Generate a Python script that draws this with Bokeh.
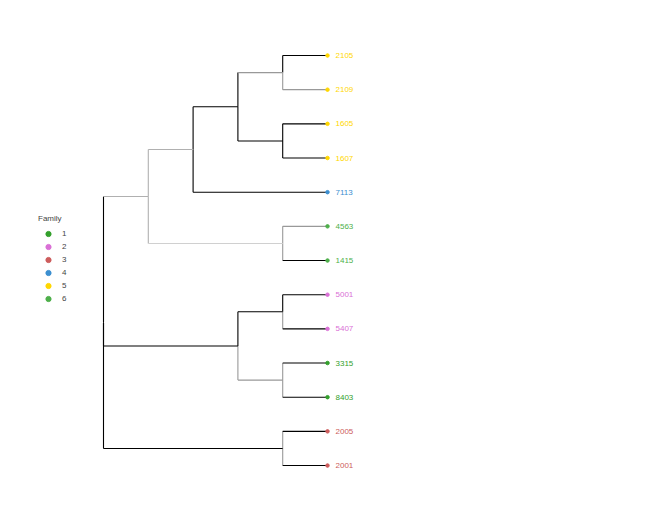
from bokeh.plotting import figure
from bokeh.models import Range1d, ColumnDataSource, Legend, LegendItem
from bokeh.core.properties import value
from bokeh.embed import file_html
from bokeh.resources import INLINE

# ---- data ----
leaf_names = ["2105", "2109", "1605", "1607", "7113", "4563", "1415",
              "5001", "5407", "3315", "8403", "2005", "2001"]
leaf_family = [5, 5, 5, 5, 4, 6, 6, 2, 2, 1, 1, 3, 3]
families = [1, 2, 3, 4, 5, 6]
family_colors = ["#33a02c", "#da70d6", "#cd5c5c", "#3c8fd0", "#ffd700", "#4daf4a"]

# internal nodes: name -> (children, depth)
internal_nodes = {
    "N4": (["2105", "2109"], 4),
    "N5": (["1605", "1607"], 4),
    "N3": (["N4", "N5"], 3),
    "N1": (["N3", "7113"], 2),
    "N2": (["4563", "1415"], 4),
    "U":  (["N1", "N2"], 1),
    "P":  (["5001", "5407"], 4),
    "Q":  (["3315", "8403"], 4),
    "M":  (["P", "Q"], 3),
    "B":  (["2005", "2001"], 4),
    "root": (["U", "M", "B"], 0),
}
leaf_depth = 5

# per-edge colours (horizontal, vertical)
edge_colors = {
    ("root", "U"): ("#b0b0b0", "#000000"),
    ("root", "M"): ("#000000", "#000000"),
    ("root", "B"): ("#000000", "#000000"),
    ("U", "N1"): ("#b0b0b0", "#b0b0b0"),
    ("U", "N2"): ("#d0d0d0", "#b0b0b0"),
    ("N1", "N3"): ("#000000", "#000000"),
    ("N1", "7113"): ("#000000", "#000000"),
    ("N3", "N4"): ("#999999", "#000000"),
    ("N3", "N5"): ("#000000", "#000000"),
    ("N4", "2105"): ("#000000", "#000000"),
    ("N4", "2109"): ("#999999", "#999999"),
    ("N5", "1605"): ("#000000", "#000000"),
    ("N5", "1607"): ("#000000", "#000000"),
    ("N2", "4563"): ("#999999", "#999999"),
    ("N2", "1415"): ("#000000", "#999999"),
    ("M", "P"): ("#000000", "#000000"),
    ("M", "Q"): ("#999999", "#999999"),
    ("P", "5001"): ("#000000", "#000000"),
    ("P", "5407"): ("#000000", "#999999"),
    ("Q", "3315"): ("#000000", "#999999"),
    ("Q", "8403"): ("#000000", "#999999"),
    ("B", "2005"): ("#000000", "#999999"),
    ("B", "2001"): ("#000000", "#999999"),
}

# ---- layout of tree ----
pos = {}
for i, n in enumerate(leaf_names):
    pos[n] = (leaf_depth, i)

def place(node):
    if node in pos:
        return pos[node]
    children, depth = internal_nodes[node]
    ys = [place(c)[1] for c in children]
    pos[node] = (depth, sum(ys) / len(ys))
    return pos[node]

for n in internal_nodes:
    if n != "root":
        place(n)
rc = internal_nodes["root"][0]
pos["root"] = (0, (pos[rc[0]][1] + pos[rc[-1]][1]) / 2)

hx0, hx1, hy, hc = [], [], [], []
vx, vy0, vy1, vc = [], [], [], []
for (par, ch), (hcol, vcol) in edge_colors.items():
    px_, py_ = pos[par]
    cx_, cy_ = pos[ch]
    vx.append(px_); vy0.append(py_); vy1.append(cy_); vc.append(vcol)
    hx0.append(px_); hx1.append(cx_); hy.append(cy_); hc.append(hcol)

# ---- figure ----
W, H = 636, 506
p = figure(width=W, height=H, output_backend="svg", toolbar_location=None,
           min_border=0, min_border_left=0, min_border_right=0,
           min_border_top=0, min_border_bottom=0)
sx = 44.8
x0 = -103 / sx
p.x_range = Range1d(x0, x0 + W / sx)
sy = 34.17
ytop = -55 / sy
p.y_range = Range1d(ytop + H / sy, ytop)
p.axis.visible = False
p.grid.visible = False
p.outline_line_color = None
p.background_fill_color = "white"
p.border_fill_color = "white"

p.segment(x0=vx, y0=vy0, x1=vx, y1=vy1, line_color=vc, line_width=1.1)
p.segment(x0=hx0, y0=hy, x1=hx1, y1=hy, line_color=hc, line_width=1.1)

items = []
for f, col in zip(families, family_colors):
    idx = [i for i, ff in enumerate(leaf_family) if ff == f]
    src = ColumnDataSource(dict(
        x=[leaf_depth] * len(idx),
        y=idx,
        name=[leaf_names[i] for i in idx],
    ))
    r = p.scatter("x", "y", source=src, size=3.5, color=col)
    p.text("x", "y", text="name", source=src, x_offset=8, text_color=col,
           text_font=value("Liberation Sans"), text_font_size="8px",
           text_baseline="middle", text_align="left")
    items.append(LegendItem(label=str(f), renderers=[r]))

legend = Legend(items=items, title="Family", location=(38, 201),
                border_line_color=None, background_fill_alpha=0,
                padding=0, margin=0, spacing=0,
                label_height=13, glyph_height=13, glyph_width=20,
                label_standoff=4,
                label_text_font="Liberation Sans", label_text_font_size="8px",
                title_text_font="Liberation Sans", title_text_font_size="8px",
                title_text_font_style="normal", title_standoff=4)
p.add_layout(legend, "center")

open("out.html", "w").write(file_html(p, INLINE))
